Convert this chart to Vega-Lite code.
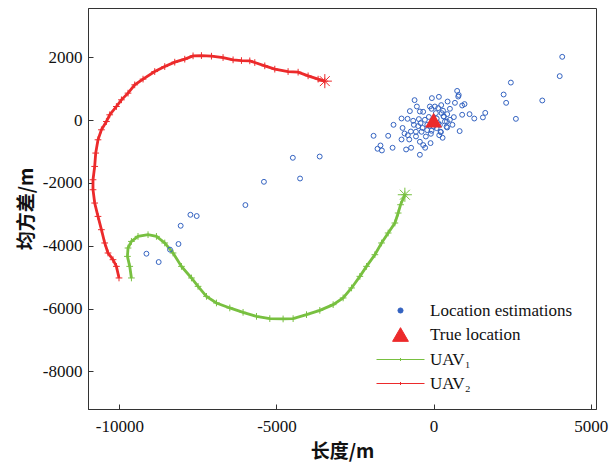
{
  "$schema": "https://vega.github.io/schema/vega-lite/v6.json",
  "width": 508,
  "height": 401,
  "autosize": {"type": "none"},
  "padding": {"left": 88, "top": 8, "right": 16, "bottom": 59},
  "background": "white",
  "config": {
    "view": {"stroke": "#333", "strokeWidth": 1},
    "axis": {
      "domainColor": "#333", "tickColor": "#333", "grid": false,
      "labelFont": "Liberation Serif", "labelFontSize": 17, "labelColor": "#111",
      "titleFont": "Noto Sans CJK SC", "titleFontSize": 19, "titleFontWeight": "bold", "titleColor": "#111",
      "tickSize": -5
    }
  },
  "datasets": {
    "tracks": [
      {"series": "UAV₂", "i": 1, "x": -10013, "y": -5027},
      {"series": "UAV₂", "i": 2, "x": -10096, "y": -4658},
      {"series": "UAV₂", "i": 3, "x": -10204, "y": -4445},
      {"series": "UAV₂", "i": 4, "x": -10363, "y": -4232},
      {"series": "UAV₂", "i": 5, "x": -10468, "y": -3913},
      {"series": "UAV₂", "i": 6, "x": -10573, "y": -3490},
      {"series": "UAV₂", "i": 7, "x": -10682, "y": -3067},
      {"series": "UAV₂", "i": 8, "x": -10787, "y": -2641},
      {"series": "UAV₂", "i": 9, "x": -10841, "y": -2217},
      {"series": "UAV₂", "i": 10, "x": -10841, "y": -1899},
      {"series": "UAV₂", "i": 11, "x": -10787, "y": -1476},
      {"series": "UAV₂", "i": 12, "x": -10755, "y": -1050},
      {"series": "UAV₂", "i": 13, "x": -10682, "y": -627},
      {"series": "UAV₂", "i": 14, "x": -10573, "y": -309},
      {"series": "UAV₂", "i": 15, "x": -10414, "y": -45},
      {"series": "UAV₂", "i": 16, "x": -10309, "y": 169},
      {"series": "UAV₂", "i": 17, "x": -10096, "y": 433},
      {"series": "UAV₂", "i": 18, "x": -9936, "y": 646},
      {"series": "UAV₂", "i": 19, "x": -9726, "y": 859},
      {"series": "UAV₂", "i": 20, "x": -9513, "y": 1123},
      {"series": "UAV₂", "i": 21, "x": -9248, "y": 1305},
      {"series": "UAV₂", "i": 22, "x": -8876, "y": 1546},
      {"series": "UAV₂", "i": 23, "x": -8557, "y": 1705},
      {"series": "UAV₂", "i": 24, "x": -8239, "y": 1845},
      {"series": "UAV₂", "i": 25, "x": -7920, "y": 1941},
      {"series": "UAV₂", "i": 26, "x": -7656, "y": 2046},
      {"series": "UAV₂", "i": 27, "x": -7389, "y": 2055},
      {"series": "UAV₂", "i": 28, "x": -7070, "y": 2036},
      {"series": "UAV₂", "i": 29, "x": -6701, "y": 1992},
      {"series": "UAV₂", "i": 30, "x": -6382, "y": 1919},
      {"series": "UAV₂", "i": 31, "x": -6115, "y": 1896},
      {"series": "UAV₂", "i": 32, "x": -5850, "y": 1887},
      {"series": "UAV₂", "i": 33, "x": -5691, "y": 1833},
      {"series": "UAV₂", "i": 34, "x": -5373, "y": 1728},
      {"series": "UAV₂", "i": 35, "x": -5054, "y": 1623},
      {"series": "UAV₂", "i": 36, "x": -4631, "y": 1546},
      {"series": "UAV₂", "i": 37, "x": -4312, "y": 1527},
      {"series": "UAV₂", "i": 38, "x": -3994, "y": 1410},
      {"series": "UAV₂", "i": 39, "x": -3675, "y": 1305},
      {"series": "UAV₂", "i": 40, "x": -3462, "y": 1241},
      {"series": "UAV₁", "i": 1, "x": -9618, "y": -5027},
      {"series": "UAV₁", "i": 2, "x": -9672, "y": -4658},
      {"series": "UAV₁", "i": 3, "x": -9745, "y": -4340},
      {"series": "UAV₁", "i": 4, "x": -9726, "y": -4073},
      {"series": "UAV₁", "i": 5, "x": -9618, "y": -3863},
      {"series": "UAV₁", "i": 6, "x": -9408, "y": -3703},
      {"series": "UAV₁", "i": 7, "x": -9089, "y": -3649},
      {"series": "UAV₁", "i": 8, "x": -8822, "y": -3703},
      {"series": "UAV₁", "i": 9, "x": -8557, "y": -3913},
      {"series": "UAV₁", "i": 10, "x": -8293, "y": -4232},
      {"series": "UAV₁", "i": 11, "x": -8025, "y": -4658},
      {"series": "UAV₁", "i": 12, "x": -7707, "y": -5027},
      {"series": "UAV₁", "i": 13, "x": -7497, "y": -5294},
      {"series": "UAV₁", "i": 14, "x": -7229, "y": -5613},
      {"series": "UAV₁", "i": 15, "x": -6911, "y": -5823},
      {"series": "UAV₁", "i": 16, "x": -6487, "y": -5982},
      {"series": "UAV₁", "i": 17, "x": -6064, "y": -6122},
      {"series": "UAV₁", "i": 18, "x": -5637, "y": -6249},
      {"series": "UAV₁", "i": 19, "x": -5213, "y": -6322},
      {"series": "UAV₁", "i": 20, "x": -4790, "y": -6332},
      {"series": "UAV₁", "i": 21, "x": -4471, "y": -6322},
      {"series": "UAV₁", "i": 22, "x": -4045, "y": -6195},
      {"series": "UAV₁", "i": 23, "x": -3621, "y": -6058},
      {"series": "UAV₁", "i": 24, "x": -3197, "y": -5877},
      {"series": "UAV₁", "i": 25, "x": -2879, "y": -5663},
      {"series": "UAV₁", "i": 26, "x": -2611, "y": -5345},
      {"series": "UAV₁", "i": 27, "x": -2347, "y": -4976},
      {"series": "UAV₁", "i": 28, "x": -2134, "y": -4658},
      {"series": "UAV₁", "i": 29, "x": -1869, "y": -4286},
      {"series": "UAV₁", "i": 30, "x": -1656, "y": -3913},
      {"series": "UAV₁", "i": 31, "x": -1446, "y": -3595},
      {"series": "UAV₁", "i": 32, "x": -1232, "y": -3277},
      {"series": "UAV₁", "i": 33, "x": -1127, "y": -2959},
      {"series": "UAV₁", "i": 34, "x": -1051, "y": -2695},
      {"series": "UAV₁", "i": 35, "x": -914, "y": -2377}
    ],
    "ends": [
      {"series": "UAV₂", "x": -3462, "y": 1241},
      {"series": "UAV₁", "x": -914, "y": -2377}
    ],
    "est": [
      {"x": -4480, "y": -1200}, {"x": -3625, "y": -1160}, {"x": -4250, "y": -1860}, {"x": -5400, "y": -1965},
      {"x": -5990, "y": -2705}, {"x": -7740, "y": -3015}, {"x": -7540, "y": -3055}, {"x": -8050, "y": -3365},
      {"x": -8120, "y": -3945}, {"x": -8390, "y": -4125}, {"x": -9140, "y": -4255}, {"x": -8750, "y": -4520},
      {"x": 4095, "y": 2015}, {"x": 4015, "y": 1400}, {"x": 2460, "y": 1195}, {"x": 2230, "y": 815},
      {"x": 2310, "y": 550}, {"x": 3460, "y": 625}, {"x": 2620, "y": 40}, {"x": 1645, "y": 230},
      {"x": 1570, "y": 85}, {"x": 1295, "y": 50}, {"x": 1145, "y": 190}, {"x": 910, "y": 170},
      {"x": 985, "y": 510}, {"x": 910, "y": 465}, {"x": 680, "y": 550}, {"x": 785, "y": 750},
      {"x": 800, "y": 800}, {"x": 750, "y": 930}, {"x": 645, "y": 95}, {"x": 520, "y": 360},
      {"x": 830, "y": -350}, {"x": -1910, "y": -500}, {"x": -1445, "y": -500}, {"x": -1275, "y": -150},
      {"x": -1020, "y": -617}, {"x": -775, "y": -617}, {"x": -925, "y": -426}, {"x": -1690, "y": -808},
      {"x": -1785, "y": -913}, {"x": -1645, "y": -967}, {"x": -1305, "y": -881}, {"x": -875, "y": -935},
      {"x": -715, "y": -881}, {"x": -436, "y": -690}, {"x": -330, "y": -795}, {"x": -268, "y": -881},
      {"x": -96, "y": -732}, {"x": -436, "y": -1104}, {"x": -1020, "y": 51}, {"x": -828, "y": 41},
      {"x": -605, "y": 636}, {"x": -532, "y": 433}, {"x": -755, "y": 286}, {"x": -331, "y": 264},
      {"x": -54, "y": 700}, {"x": 169, "y": 741}, {"x": 243, "y": 477}, {"x": 446, "y": 592},
      {"x": 287, "y": -563}, {"x": 223, "y": -372}, {"x": 414, "y": -213}, {"x": 424, "y": -45},
      {"x": 318, "y": 115}, {"x": -650, "y": -22}, {"x": -468, "y": 32}, {"x": -627, "y": -150},
      {"x": -490, "y": -191}, {"x": -414, "y": -95}, {"x": -723, "y": -363}, {"x": -563, "y": -372},
      {"x": -382, "y": -372}, {"x": -204, "y": -318}, {"x": -64, "y": -340}, {"x": -118, "y": 433},
      {"x": -64, "y": 360}, {"x": 41, "y": 433}, {"x": 146, "y": 382}, {"x": 73, "y": 223},
      {"x": 255, "y": 223}, {"x": 328, "y": 115}, {"x": 433, "y": 191}, {"x": 360, "y": -45},
      {"x": 519, "y": 10}, {"x": 433, "y": -235}, {"x": 96, "y": -255}, {"x": 232, "y": -382},
      {"x": -86, "y": -436}, {"x": -245, "y": -522}, {"x": -436, "y": 274}, {"x": -277, "y": 10},
      {"x": -150, "y": 100}, {"x": 150, "y": -100}, {"x": -200, "y": -150}, {"x": 100, "y": 50},
      {"x": 200, "y": -150}, {"x": -350, "y": -250}, {"x": 300, "y": 300}, {"x": 0, "y": -200},
      {"x": -120, "y": -180}, {"x": 180, "y": -480}, {"x": -560, "y": -520}, {"x": -820, "y": -480},
      {"x": 600, "y": -150}, {"x": -987, "y": -250}
    ],
    "truth": [{"x": 0, "y": 0}]
  },
  "layer": [
    {
      "data": {"name": "tracks"},
      "mark": {"type": "line", "strokeWidth": 2.8},
      "encoding": {
        "x": {"field": "x", "type": "quantitative", "scale": {"domain": [-11000, 5170], "nice": false, "zero": false},
          "axis": {"title": "长度/m", "values": [-10000, -5000, 0, 5000], "labelPadding": 14, "titlePadding": 8,
            "labelExpr": "(datum.value < 0 ? '-' : '') + format(abs(datum.value), 'd')"}},
        "y": {"field": "y", "type": "quantitative", "scale": {"domain": [-9200, 3570], "nice": false, "zero": false},
          "axis": {"title": "均方差/m", "values": [-8000, -6000, -4000, -2000, 0, 2000], "labelPadding": 11, "titlePadding": 6,
            "labelExpr": "(datum.value < 0 ? '-' : '') + format(abs(datum.value), 'd')"}},
        "color": {"field": "series", "type": "nominal",
          "scale": {"domain": ["Location estimations", "True location", "UAV₁", "UAV₂"], "range": ["#3463c1", "#ec2a2b", "#78c040", "#ec2a2b"]},
          "legend": {
            "title": null, "orient": "none", "legendX": 304, "legendY": 294,
            "labelFont": "Liberation Serif", "labelFontSize": 17, "labelColor": "#111",
            "rowPadding": 6, "labelOffset": 21, "padding": 0,
            "symbolFillColor": "transparent",
            "encode": {"symbols": {"update": {
              "shape": {"signal": "datum.index === 0 ? 'circle' : datum.index === 1 ? 'triangle-up' : 'M-4.8,0L4.8,0M0,-0.3L0,0.3'"},
              "size": {"signal": "datum.index === 0 ? 26 : datum.index === 1 ? 250 : 100"},
              "fill": {"signal": "datum.index === 1 ? '#ec2a2b' : 'transparent'"},
              "stroke": {"signal": "datum.index === 0 ? '#3463c1' : datum.index === 2 ? '#78c040' : '#ec2a2b'"},
              "strokeWidth": {"value": 1},
              "opacity": {"value": 1},
              "fillOpacity": {"value": 1},
              "strokeOpacity": {"value": 1}
            }}}
          }},
        "detail": {"field": "series"},
        "order": {"field": "i", "type": "quantitative"}
      }
    },
    {
      "data": {"name": "tracks"},
      "mark": {"type": "point", "shape": "M-1,0L1,0M0,-1L0,1", "filled": false, "size": 45, "strokeWidth": 1, "opacity": 1},
      "encoding": {
        "x": {"field": "x", "type": "quantitative"},
        "y": {"field": "y", "type": "quantitative"},
        "color": {"field": "series", "type": "nominal"}
      }
    },
    {
      "data": {"name": "ends"},
      "mark": {"type": "point", "shape": "M-1,0L1,0M0,-1L0,1M-0.7,-0.7L0.7,0.7M-0.7,0.7L0.7,-0.7", "filled": false, "size": 200, "strokeWidth": 1, "opacity": 1},
      "encoding": {
        "x": {"field": "x", "type": "quantitative"},
        "y": {"field": "y", "type": "quantitative"},
        "color": {"field": "series", "type": "nominal"}
      }
    },
    {
      "data": {"name": "est"},
      "mark": {"type": "point", "shape": "circle", "filled": false, "size": 24, "strokeWidth": 1, "opacity": 1},
      "encoding": {
        "x": {"field": "x", "type": "quantitative"},
        "y": {"field": "y", "type": "quantitative"},
        "color": {"datum": "Location estimations", "type": "nominal"}
      }
    },
    {
      "data": {"name": "truth"},
      "mark": {"type": "point", "shape": "triangle-up", "filled": true, "size": 290, "opacity": 1},
      "encoding": {
        "x": {"field": "x", "type": "quantitative"},
        "y": {"field": "y", "type": "quantitative"},
        "color": {"datum": "True location", "type": "nominal"}
      }
    }
  ]
}
